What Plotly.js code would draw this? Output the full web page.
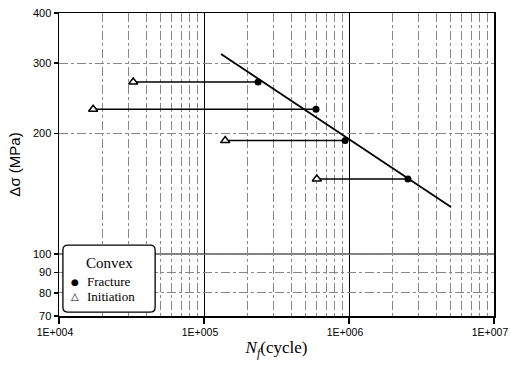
<!DOCTYPE html>
<html><head><meta charset="utf-8">
<script src="https://cdn.plot.ly/plotly-3.0.1.min.js"></script>
<style>html,body{margin:0;padding:0;background:#fff}#c{width:511px;height:365px}</style>
</head><body><div id="c"></div>
<script>
// Data
const fractureN = [2.36e5, 5.92e5, 9.4e5, 2.55e6];
const fractureS = [269, 230, 192, 154];
const initiationN = [3.25e4, 1.72e4, 1.4e5, 6.0e5];
const initiationS = [269, 230, 192, 154];
const fitN = [1.31e5, 5.05e6];
const fitS = [316, 131];
const xTickVals = [1e4, 1e5, 1e6, 1e7];
const xTickText = ["1E+004", "1E+005", "1E+006", "1E+007"];
const yTickVals = [70, 80, 90, 100, 200, 300, 400];
const yTickText = ["70", "80", "90", "100", "200", "300", "400"];
const legendTitle = "Convex";
const seriesNames = ["Fracture", "Initiation"];

const xMinor = [];
for (let d = 1e4; d < 1e7; d *= 10) for (let k = 2; k <= 9; k++) xMinor.push(k * d);

const connX = [], connY = [];
for (let i = 0; i < fractureN.length; i++) {
  connX.push(initiationN[i], fractureN[i], null);
  connY.push(initiationS[i], fractureS[i], null);
}

const serif = "Liberation Serif, Times New Roman, serif";
const sans = "Liberation Sans, Arial, sans-serif";

const traces = [
  {x: connX, y: connY, mode: "lines", line: {color: "#000", width: 1.5}, showlegend: false, hoverinfo: "skip"},
  {x: fitN, y: fitS, mode: "lines", line: {color: "#000", width: 1.8}, showlegend: false},
  {x: fractureN, y: fractureS, mode: "markers", name: seriesNames[0], showlegend: false,
   marker: {symbol: "circle", size: 7, color: "#000"}},
  {x: initiationN, y: initiationS, mode: "markers", name: seriesNames[1], showlegend: false,
   marker: {symbol: "triangle-up", size: 8, color: "#fff", line: {color: "#000", width: 1.5}}}
];

// legend box geometry (paper coords)
const bx0 = 0.009, bx1 = 0.221, by0 = 0.013, by1 = 0.234, r = 0.012, ry = 0.016;
const boxPath = `M ${bx0+r} ${by1} L ${bx1-r} ${by1} Q ${bx1} ${by1} ${bx1} ${by1-ry} L ${bx1} ${by0+ry} Q ${bx1} ${by0} ${bx1-r} ${by0} L ${bx0+r} ${by0} Q ${bx0} ${by0} ${bx0} ${by0+ry} L ${bx0} ${by1-ry} Q ${bx0} ${by1} ${bx0+r} ${by1} Z`;

const layout = {
  width: 511, height: 365,
  margin: {l: 59, r: 17, t: 13, b: 49},
  paper_bgcolor: "#fff", plot_bgcolor: "#fff",
  showlegend: false,
  xaxis: {
    type: "log", range: [4, 7],
    tickmode: "array", tickvals: xTickVals, ticktext: xTickText,
    ticklabeloverflow: "allow", ticklabelshift: -4,
    ticks: "outside", ticklen: 6, tickwidth: 1.5, tickcolor: "#000",
    tickfont: {family: sans, size: 10.5, color: "#000"},
    showline: true, linecolor: "#000", linewidth: 1.5, mirror: true,
    showgrid: true, gridcolor: "#000", gridwidth: 1,
    minor: {tickvals: xMinor, showgrid: true, gridcolor: "#888", griddash: "dashdot", gridwidth: 1, ticks: ""},
    zeroline: false,
    title: {text: "<i>N</i><sub><i>f</i></sub>(cycle)", font: {family: serif, size: 17, color: "#000"}, standoff: 4}
  },
  yaxis: {
    type: "log", range: [Math.log10(70), Math.log10(400)],
    tickmode: "array", tickvals: yTickVals, ticktext: yTickText,
    ticks: "outside", ticklen: 4, tickwidth: 1.5, tickcolor: "#000",
    tickfont: {family: sans, size: 11, color: "#000"},
    showline: true, linecolor: "#000", linewidth: 1.5, mirror: true,
    showgrid: true, gridcolor: "#888", griddash: "dashdot", gridwidth: 1,
    zeroline: false,
    title: {text: "Δσ (MPa)", font: {family: sans, size: 15, color: "#000"}, standoff: 8}
  },
  shapes: [
    {type: "line", xref: "paper", x0: 0, x1: 1, yref: "y", y0: 100, y1: 100,
     line: {color: "#000", width: 1}, layer: "below"},
    {type: "path", xref: "paper", yref: "paper", path: boxPath,
     fillcolor: "#fff", line: {color: "#000", width: 1.3}, layer: "above"}
  ],
  annotations: [
    {xref: "paper", yref: "paper", x: (bx0 + bx1) / 2, y: 0.175, text: legendTitle, showarrow: false,
     xanchor: "center", yanchor: "middle", font: {family: serif, size: 15, color: "#000"}},
    {xref: "paper", yref: "paper", x: 0.037, y: 0.113, text: "●", showarrow: false,
     xanchor: "center", yanchor: "middle", font: {family: "DejaVu Sans", size: 9, color: "#000"}},
    {xref: "paper", yref: "paper", x: 0.06, y: 0.113, text: seriesNames[0], showarrow: false,
     xanchor: "left", yanchor: "middle", font: {family: serif, size: 13, color: "#000"}},
    {xref: "paper", yref: "paper", x: 0.037, y: 0.066, text: "△", showarrow: false,
     xanchor: "center", yanchor: "middle", font: {family: "DejaVu Sans", size: 10, color: "#000"}},
    {xref: "paper", yref: "paper", x: 0.06, y: 0.066, text: seriesNames[1], showarrow: false,
     xanchor: "left", yanchor: "middle", font: {family: serif, size: 13, color: "#000"}}
  ]
};

Plotly.newPlot("c", traces, layout, {displayModeBar: false, staticPlot: true});
</script>
</body></html>
